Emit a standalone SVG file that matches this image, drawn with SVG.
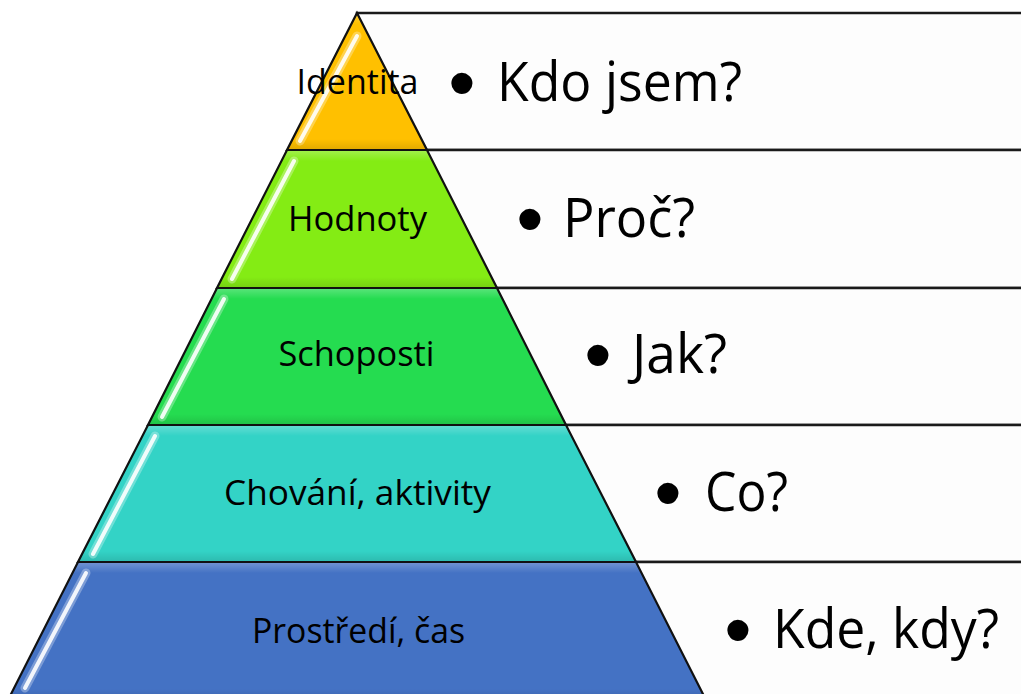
<svg xmlns="http://www.w3.org/2000/svg" width="1021" height="694" viewBox="0 0 1021 694">
  <defs>
    <linearGradient id="bevel" x1="0" y1="0" x2="0" y2="1">
      <stop offset="0" stop-color="#ffffff" stop-opacity="0.25"/>
      <stop offset="0.08" stop-color="#ffffff" stop-opacity="0"/>
      <stop offset="0.92" stop-color="#000000" stop-opacity="0"/>
      <stop offset="1" stop-color="#000000" stop-opacity="0.12"/>
    </linearGradient>
    <style>
      .box { fill: #fdfdfd; stroke: #1a1a1a; stroke-width: 2.5; }
      .layer { stroke: none; }
      .bev { fill: url(#bevel); stroke: none; }
      .outline { fill: none; stroke: #111; stroke-width: 2.2; stroke-linejoin: miter; }
      .hl { stroke: #ffffff; stroke-width: 4; stroke-linecap: round; opacity: 0.9; fill: none; }
      .hlw { stroke: #ffffff; stroke-width: 9; stroke-linecap: round; opacity: 0.3; fill: none; }
      .lbl { font-family: "Open Sans", "Noto Sans", sans-serif; font-size: 35px; fill: #000; text-anchor: middle; }
      .q { font-family: "Open Sans", "Noto Sans", sans-serif; font-size: 54px; fill: #000; }
      .bul { font-family: "Liberation Sans", Arial, sans-serif; font-size: 78px; fill: #000; text-anchor: middle; }
    </style>
  </defs>
  <rect width="1021" height="694" fill="#ffffff"/>

  <!-- right-hand boxes -->
  <g id="box-kdo">
    <rect class="box" x="357" y="13" width="680" height="137"/>
    <text class="bul" x="462" y="109">•</text>
    <text class="q" x="497" y="101" textLength="245" lengthAdjust="spacingAndGlyphs">Kdo jsem?</text>
  </g>
  <g id="box-proc">
    <rect class="box" x="357" y="150" width="680" height="138"/>
    <text class="bul" x="530" y="245">•</text>
    <text class="q" x="563" y="237" textLength="132" lengthAdjust="spacingAndGlyphs">Proč?</text>
  </g>
  <g id="box-jak">
    <rect class="box" x="357" y="288" width="680" height="137"/>
    <text class="bul" x="598" y="381">•</text>
    <text class="q" x="632" y="373" textLength="95" lengthAdjust="spacingAndGlyphs">Jak?</text>
  </g>
  <g id="box-co">
    <rect class="box" x="357" y="425" width="680" height="137"/>
    <text class="bul" x="668" y="519">•</text>
    <text class="q" x="705" y="511" textLength="83" lengthAdjust="spacingAndGlyphs">Co?</text>
  </g>
  <g id="box-kde">
    <rect class="box" x="357" y="562" width="680" height="150"/>
    <text class="bul" x="738" y="656">•</text>
    <text class="q" x="773" y="648" textLength="226" lengthAdjust="spacingAndGlyphs">Kde, kdy?</text>
  </g>

  <!-- pyramid layers -->
  <g id="layer-identita">
    <polygon class="layer" fill="#FFC000" points="357,13 427,150 287,150"/>
    <polygon class="bev" points="357,13 427,150 287,150"/>
    <line class="hlw" x1="357" y1="36" x2="300" y2="141"/>
    <line class="hl" x1="357" y1="36" x2="300" y2="141"/>
    <polygon class="outline" points="357,13 427,150 287,150"/>
    <text class="lbl" x="357.5" y="94" textLength="122" lengthAdjust="spacingAndGlyphs">Identita</text>
  </g>
  <g id="layer-hodnoty">
    <polygon class="layer" fill="#84EC14" points="287,150 427,150 497,288 217,288"/>
    <polygon class="bev" points="287,150 427,150 497,288 217,288"/>
    <line class="hlw" x1="294" y1="161" x2="232" y2="279"/>
    <line class="hl" x1="294" y1="161" x2="232" y2="279"/>
    <polygon class="outline" points="287,150 427,150 497,288 217,288"/>
    <text class="lbl" x="357.5" y="231" textLength="139" lengthAdjust="spacingAndGlyphs">Hodnoty</text>
  </g>
  <g id="layer-schoposti">
    <polygon class="layer" fill="#25DC50" points="217,288 497,288 566,425 148,425"/>
    <polygon class="bev" points="217,288 497,288 566,425 148,425"/>
    <line class="hlw" x1="224" y1="299" x2="162" y2="417"/>
    <line class="hl" x1="224" y1="299" x2="162" y2="417"/>
    <polygon class="outline" points="217,288 497,288 566,425 148,425"/>
    <text class="lbl" x="356.5" y="366" textLength="156" lengthAdjust="spacingAndGlyphs">Schoposti</text>
  </g>
  <g id="layer-chovani">
    <polygon class="layer" fill="#33D3C6" points="148,425 566,425 636,562 78,562"/>
    <polygon class="bev" points="148,425 566,425 636,562 78,562"/>
    <line class="hlw" x1="155" y1="436" x2="93" y2="554"/>
    <line class="hl" x1="155" y1="436" x2="93" y2="554"/>
    <polygon class="outline" points="148,425 566,425 636,562 78,562"/>
    <text class="lbl" x="357.5" y="505" textLength="267" lengthAdjust="spacingAndGlyphs">Chování, aktivity</text>
  </g>
  <g id="layer-prostredi">
    <polygon class="layer" fill="#4472C4" points="78,562 636,562 706,700 8,700"/>
    <polygon class="bev" points="78,562 636,562 706,700 8,700"/>
    <line class="hlw" x1="86" y1="573" x2="25" y2="688"/>
    <line class="hl" x1="86" y1="573" x2="25" y2="688"/>
    <polygon class="outline" points="78,562 636,562 706,700 8,700"/>
    <text class="lbl" x="358.5" y="643" textLength="213" lengthAdjust="spacingAndGlyphs">Prostředí, čas</text>
  </g>

  <g id="connectors"></g>
</svg>
